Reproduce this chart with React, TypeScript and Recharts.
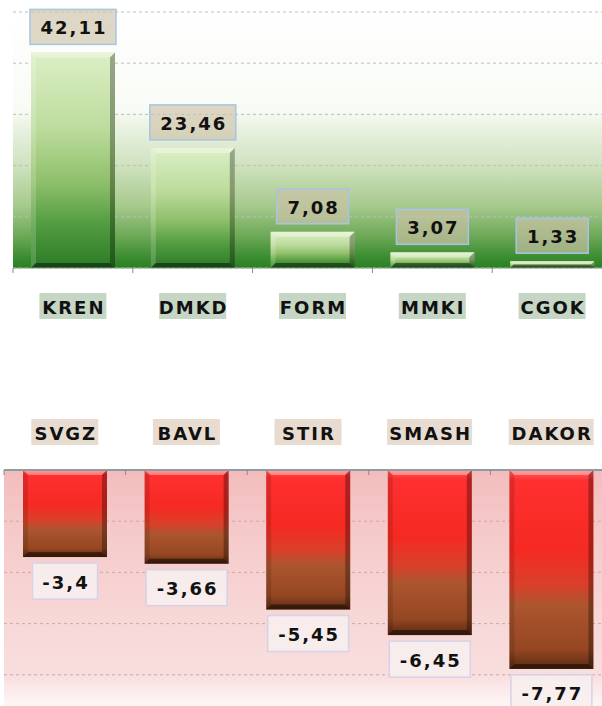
import { BarChart, Bar, XAxis, YAxis, CartesianGrid } from "recharts";

// top chart: leaders, bottom chart: losers
const gainNames = ["KREN", "DMKD", "FORM", "MMKI", "CGOK"];
const gainValues = [42.11, 23.46, 7.08, 3.07, 1.33];
const gainTicks = [0, 10, 20, 30, 40, 50];

const lossNames = ["SVGZ", "BAVL", "STIR", "SMASH", "DAKOR"];
const lossValues = [-3.4, -3.66, -5.45, -6.45, -7.77];
const lossTicks = [0, -2, -4, -6, -8, -10];

const gainData = gainNames.map((name, i) => ({ name, value: gainValues[i] }));
const lossData = lossNames.map((name, i) => ({ name, value: lossValues[i] }));

const FONT = "'DejaVu Sans', Verdana, sans-serif";
const W = 612;
const fmt = (v: number) => String(v).replace(".", ",");
const NoTick = () => <g />;

const BevelBar = (props: any) => {
  const { x, y, width, height, payload, kind } = props;
  const top = Math.min(y, y + height);
  const h = Math.abs(height);
  const b = Math.min(5, h / 2, width / 2);
  const r = x + width;
  const bot = top + h;
  const up = kind === "gain";
  const label = fmt(payload.value);
  const n = label.length;
  const bw = up ? 14 * n + 16 : 16 * n + 1;
  const bh = up ? 35 : 36;
  const by = up ? top - 8 - bh : bot + 6;
  const cx = x + width / 2;
  return (
    <g>
      <rect x={x} y={top} width={width} height={h} fill={`url(#${kind}Bar)`} />
      <polygon points={`${x},${top} ${r},${top} ${r - b},${top + b} ${x + b},${top + b}`} fill="#fff" fillOpacity={0.35} />
      <polygon points={`${x},${top} ${x + b},${top + b} ${x + b},${bot - b} ${x},${bot}`} fill={up ? "#fff" : "#000"} fillOpacity={up ? 0.18 : 0.12} />
      <polygon points={`${r},${top} ${r},${bot} ${r - b},${bot - b} ${r - b},${top + b}`} fill="#000" fillOpacity={0.3} />
      <polygon points={`${x},${bot} ${r},${bot} ${r - b},${bot - b} ${x + b},${bot - b}`} fill="#000" fillOpacity={0.45} />
      <rect
        x={cx - bw / 2}
        y={by}
        width={bw}
        height={bh}
        fill={up ? "#cdc2a8" : "#f7eeee"}
        fillOpacity={up ? 0.65 : 0.9}
        stroke={up ? "#a8c4e4" : "#d6d2e8"}
        strokeWidth={1.5}
      />
      <text
        x={cx + 1}
        y={by + bh / 2 + 1}
        textAnchor="middle"
        dominantBaseline="central"
        fontFamily={FONT}
        fontWeight="bold"
        fontSize={18}
        letterSpacing={2}
        fill="#111"
      >
        {label}
      </text>
    </g>
  );
};

const CatTick = (props: any) => {
  const { x, y, payload, band, dir, bg } = props;
  const t = String(payload.value);
  const w = 18 * t.length - 5;
  const cy = y + dir * 38;
  return (
    <g>
      <line x1={x - band / 2} x2={x - band / 2} y1={y} y2={y + 5} stroke="#8a8a8a" />
      <rect x={x - w / 2} y={cy - 13} width={w} height={26} fill={bg} />
      <text
        x={x + 1}
        y={cy + 1}
        textAnchor="middle"
        dominantBaseline="central"
        fontFamily={FONT}
        fontWeight="bold"
        fontSize={18}
        letterSpacing={2}
        fill="#111"
      >
        {t}
      </text>
    </g>
  );
};

export default function App() {
  const gainMargin = { top: 12, right: 0, left: 13, bottom: 0 };
  const lossMargin = { top: 0, right: 0, left: 4, bottom: 0 };
  const gainBand = (W - gainMargin.left - gainMargin.right) / gainData.length;
  const lossBand = (W - lossMargin.left - lossMargin.right) / lossData.length;

  return (
    <div style={{ position: "absolute", left: 0, top: 0, width: 602, height: 706, overflow: "hidden", background: "#fff" }}>
      <div style={{ position: "absolute", left: 0, top: 0 }}>
        <BarChart width={W} height={330} data={gainData} margin={gainMargin}>
          <defs>
            <linearGradient id="gainBg" x1="0" y1="0" x2="0" y2="1">
              <stop offset="0" stopColor="#ffffff" />
              <stop offset="0.38" stopColor="#f8fbf5" />
              <stop offset="0.46" stopColor="#e8f1df" />
              <stop offset="0.6" stopColor="#cfe2bf" />
              <stop offset="0.76" stopColor="#a6c98c" />
              <stop offset="0.88" stopColor="#6aa755" />
              <stop offset="0.96" stopColor="#3a8c30" />
              <stop offset="1" stopColor="#288022" />
            </linearGradient>
            <linearGradient id="gainBar" x1="0" y1="0" x2="0" y2="1">
              <stop offset="0" stopColor="#dcefc6" />
              <stop offset="0.35" stopColor="#bddc9d" />
              <stop offset="0.6" stopColor="#8fc06b" />
              <stop offset="0.8" stopColor="#529c40" />
              <stop offset="1" stopColor="#2a7a26" />
            </linearGradient>
          </defs>
          <CartesianGrid vertical={false} stroke="#bdbdbd" strokeDasharray="3 3" fill="url(#gainBg)" fillOpacity={1} />
          <XAxis
            dataKey="name"
            height={62}
            axisLine={{ stroke: "#7f9f7f" }}
            tickLine={false}
            tickSize={0}
            tickMargin={0}
            interval={0}
            tick={(p: any) => <CatTick {...p} band={gainBand} dir={1} bg="#c6d6c4" />}
          />
          <YAxis width={0} domain={[0, 50]} ticks={gainTicks} tick={NoTick} axisLine={false} tickLine={false} />
          <Bar dataKey="value" barSize={84} isAnimationActive={false} shape={(p: any) => <BevelBar {...p} kind="gain" />} />
        </BarChart>
      </div>
      <div style={{ position: "absolute", left: 0, top: 390 }}>
        <BarChart width={W} height={336} data={lossData} margin={lossMargin}>
          <defs>
            <linearGradient id="lossBg" x1="0" y1="0" x2="0" y2="1">
              <stop offset="0" stopColor="#f3bcbc" />
              <stop offset="0.2" stopColor="#f5c8c8" />
              <stop offset="0.5" stopColor="#f7d4d4" />
              <stop offset="0.8" stopColor="#f9dede" />
              <stop offset="0.9" stopColor="#fdf2f2" />
              <stop offset="1" stopColor="#ffffff" />
            </linearGradient>
            <linearGradient id="lossBar" x1="0" y1="0" x2="0" y2="1">
              <stop offset="0" stopColor="#ff6a6a" />
              <stop offset="0.05" stopColor="#ff3030" />
              <stop offset="0.4" stopColor="#f52a22" />
              <stop offset="0.58" stopColor="#d8402a" />
              <stop offset="0.68" stopColor="#ac552f" />
              <stop offset="0.9" stopColor="#954722" />
              <stop offset="1" stopColor="#5a2a12" />
            </linearGradient>
          </defs>
          <CartesianGrid vertical={false} stroke="#cfa8a8" strokeDasharray="3 3" fill="url(#lossBg)" fillOpacity={1} />
          <XAxis
            dataKey="name"
            orientation="top"
            height={80}
            axisLine={{ stroke: "#8c9ca0", strokeWidth: 2 }}
            tickLine={false}
            tickSize={0}
            tickMargin={0}
            interval={0}
            tick={(p: any) => <CatTick {...p} band={lossBand} dir={-1} bg="#e8dcd0" />}
          />
          <YAxis width={0} domain={[-10, 0]} ticks={lossTicks} tick={NoTick} axisLine={false} tickLine={false} />
          <Bar dataKey="value" barSize={84} isAnimationActive={false} shape={(p: any) => <BevelBar {...p} kind="loss" />} />
        </BarChart>
      </div>
    </div>
  );
}
